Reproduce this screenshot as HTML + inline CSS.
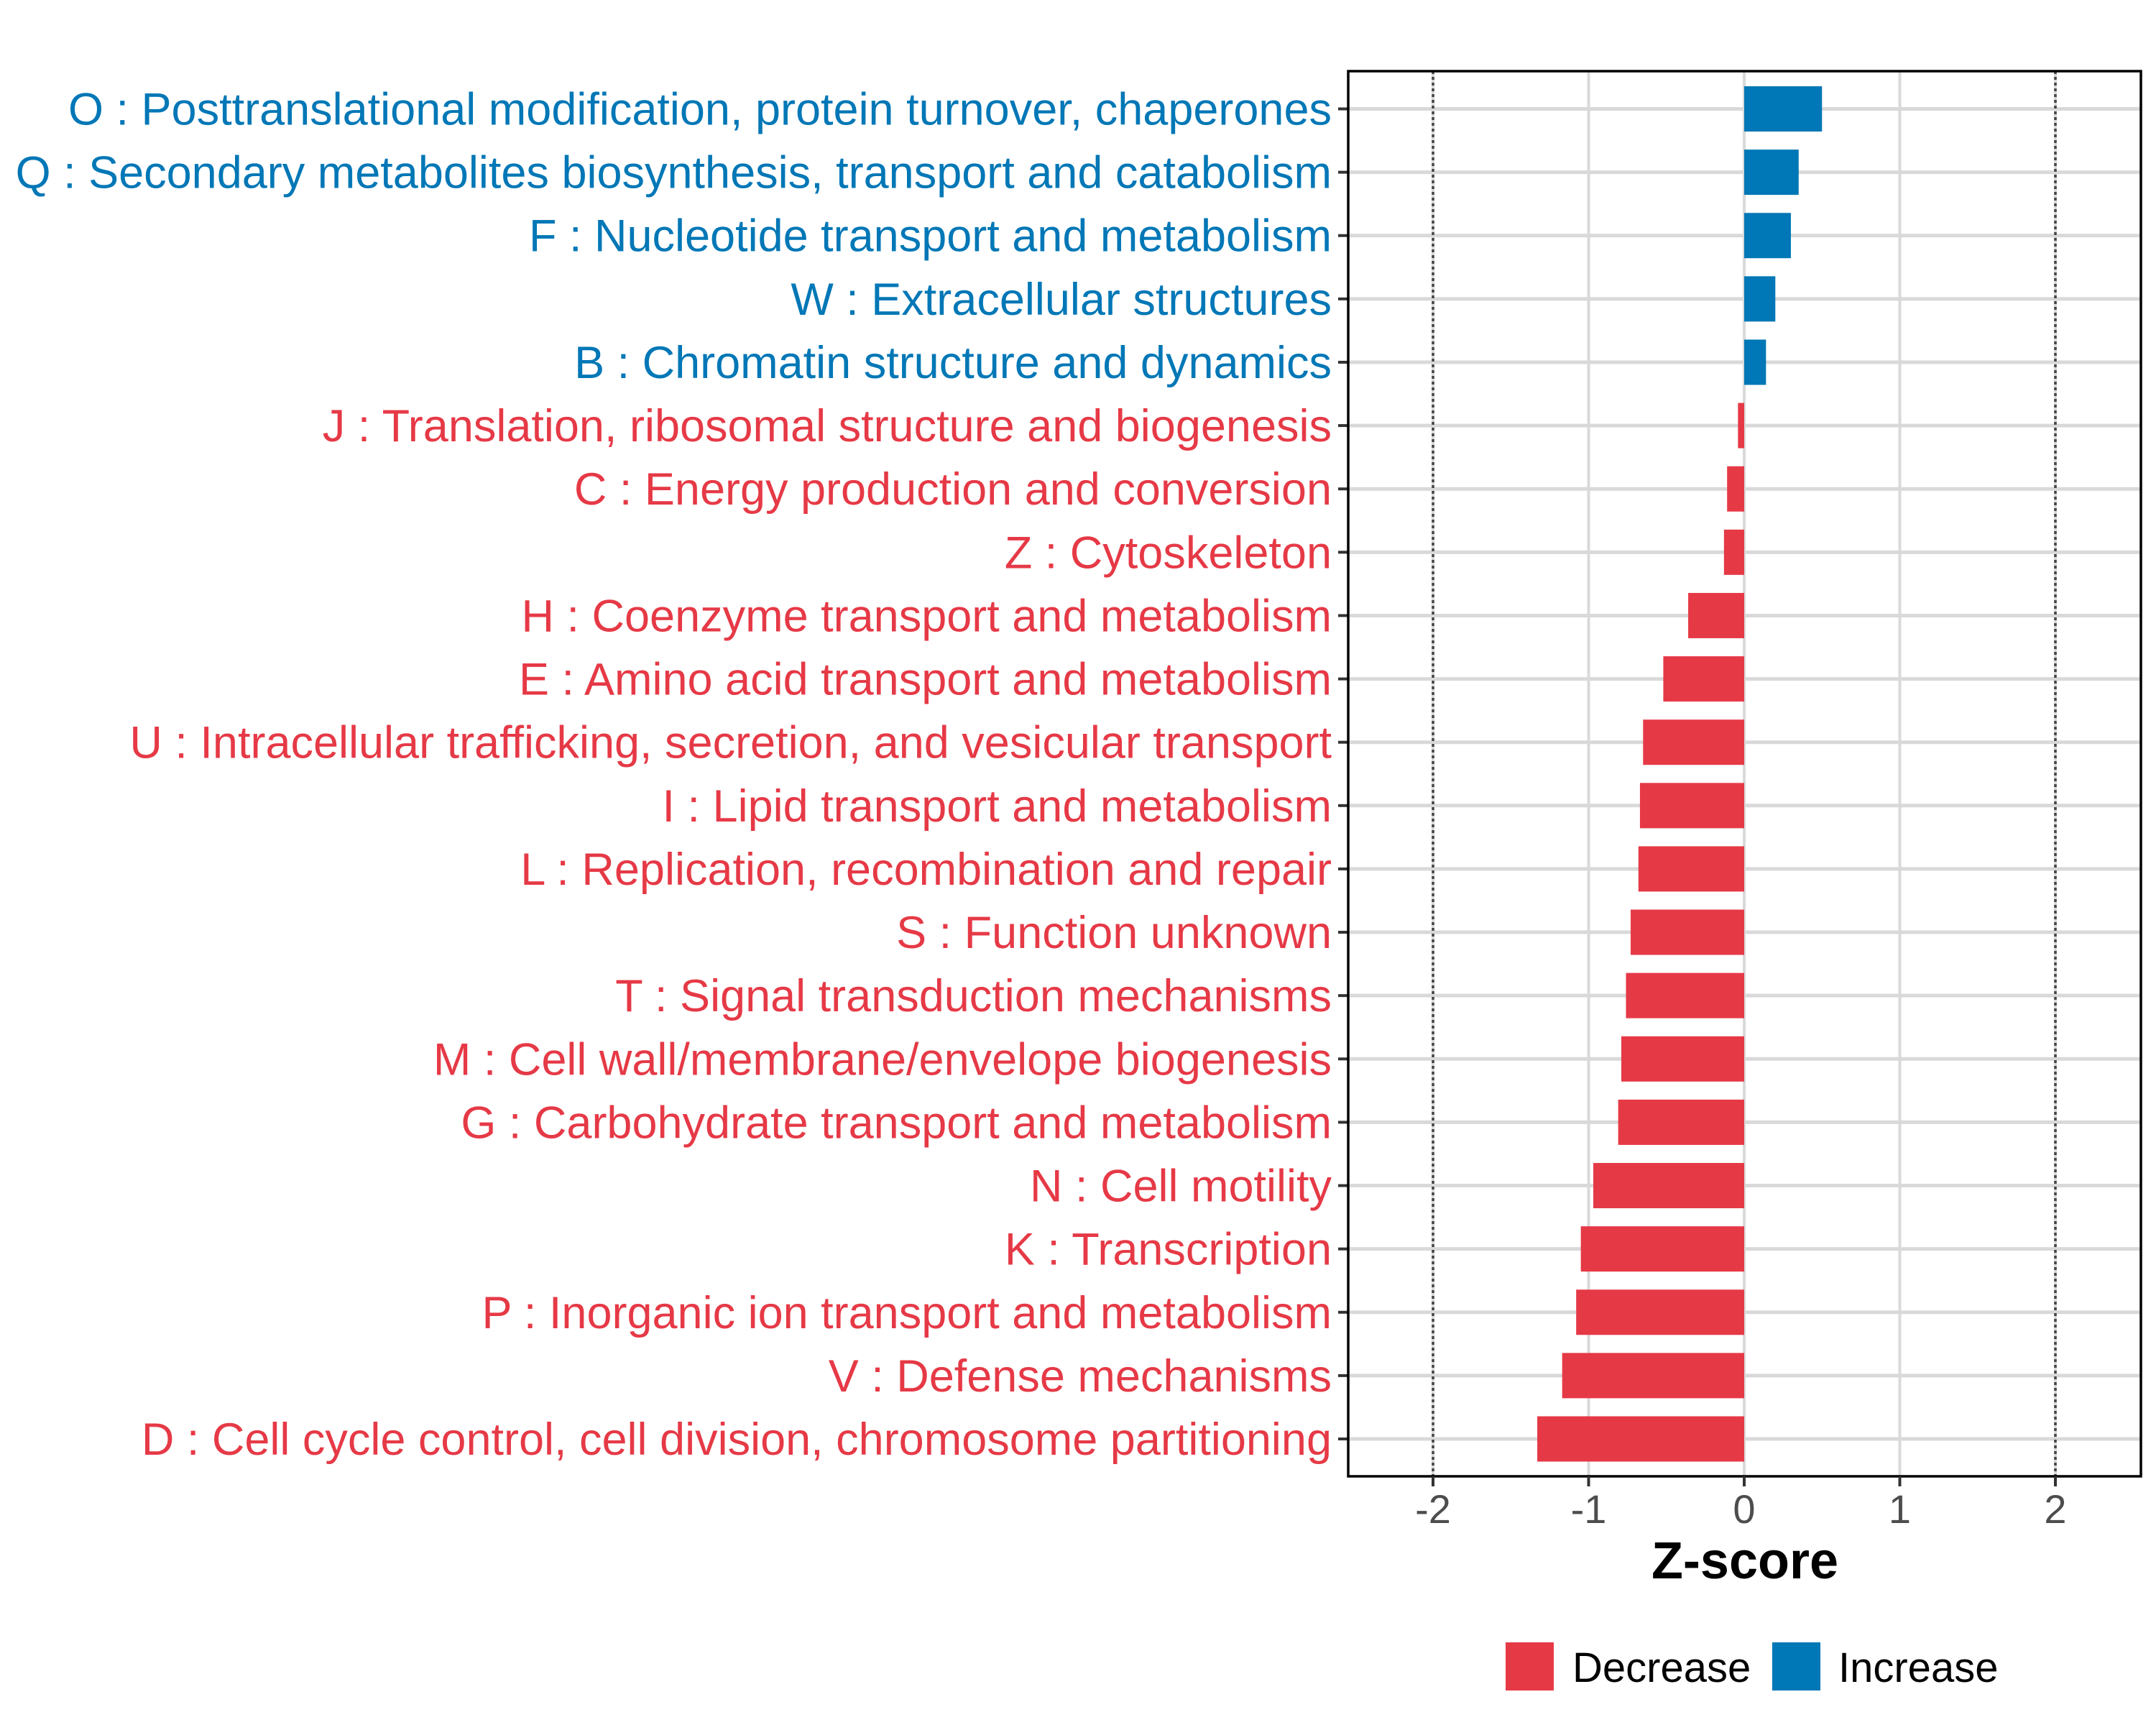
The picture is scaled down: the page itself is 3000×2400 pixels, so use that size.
<!DOCTYPE html>
<html><head><meta charset="utf-8">
<style>html,body{margin:0;padding:0;background:#fff}svg{display:block}</style></head>
<body>
<svg id="chart" width="3000" height="2400" viewBox="0 0 3000 2400" xmlns="http://www.w3.org/2000/svg" font-family="'Liberation Sans', sans-serif">
<rect width="3000" height="2400" fill="#fff"/>
<g id="grid"></g><g id="bars"></g><g id="labels"></g><g id="xaxis"></g>
<text x="2428" y="2196" font-size="72" font-weight="bold" text-anchor="middle" fill="#000">Z-score</text>
<g>
<rect x="2095" y="2285" width="67" height="67" fill="#E63946"/>
<text x="2188" y="2340" font-size="58" fill="#000">Decrease</text>
<rect x="2466" y="2285" width="67" height="67" fill="#0077B6"/>
<text x="2558" y="2340" font-size="58" fill="#000">Increase</text>
</g>
</svg>
<script>
const categories = ["O : Posttranslational modification, protein turnover, chaperones","Q : Secondary metabolites biosynthesis, transport and catabolism","F : Nucleotide transport and metabolism","W : Extracellular structures","B : Chromatin structure and dynamics","J : Translation, ribosomal structure and biogenesis","C : Energy production and conversion","Z : Cytoskeleton","H : Coenzyme transport and metabolism","E : Amino acid transport and metabolism","U : Intracellular trafficking, secretion, and vesicular transport","I : Lipid transport and metabolism","L : Replication, recombination and repair","S : Function unknown","T : Signal transduction mechanisms","M : Cell wall/membrane/envelope biogenesis","G : Carbohydrate transport and metabolism","N : Cell motility","K : Transcription","P : Inorganic ion transport and metabolism","V : Defense mechanisms","D : Cell cycle control, cell division, chromosome partitioning"];
const zscores = [0.50,0.35,0.30,0.20,0.14,-0.04,-0.11,-0.13,-0.36,-0.52,-0.65,-0.67,-0.68,-0.73,-0.76,-0.79,-0.81,-0.97,-1.05,-1.08,-1.17,-1.33];
const xTicks = [-2,-1,0,1,2];
const xTickLabels = ["-2","-1","0","1","2"];
const refLines = [-2,2];

const NS="http://www.w3.org/2000/svg";
const L=1876,R=2979,T=99,B=2054;
const x0=2427, unit=216.5;
const xs=v=>x0+v*unit;
const rowTop=151.5, rowStep=(2002-151.5)/21;
const ys=i=>rowTop+i*rowStep;
function mk(tag,attrs,parent){const e=document.createElementNS(NS,tag);for(const k in attrs)e.setAttribute(k,attrs[k]);parent.appendChild(e);return e;}
const grid=document.getElementById('grid'),bars=document.getElementById('bars'),labels=document.getElementById('labels'),xaxis=document.getElementById('xaxis');
xTicks.forEach(t=>{const l=mk('line',{x1:xs(t),x2:xs(t),y1:T,y2:B,stroke:'#d9d9d9','stroke-width':4},grid);

});
categories.forEach((c,i)=>{const l=mk('line',{x1:L,x2:R,y1:ys(i),y2:ys(i),stroke:'#d9d9d9','stroke-width':5},grid);

});
refLines.forEach(t=>{const l=mk('line',{x1:xs(t),x2:xs(t),y1:T,y2:B,stroke:'#444','stroke-width':3.5,'stroke-dasharray':'4 4'},grid);

});
categories.forEach((c,i)=>{const v=zscores[i];const col=v>=0?'#0077B6':'#E63946';
const r=mk('rect',{x:Math.min(xs(0),xs(v)),y:ys(i)-31.5,width:Math.abs(xs(v)-xs(0)),height:63,fill:col},bars);


const tk=mk('line',{x1:1862,x2:L,y1:ys(i),y2:ys(i),stroke:'#333','stroke-width':4},labels);


const t=mk('text',{x:1853,y:ys(i)+22,'font-size':63,'text-anchor':'end',fill:col},labels);
t.textContent=c;

});
const fr=mk('rect',{x:L,y:T,width:R-L,height:B-T,fill:'none',stroke:'#000','stroke-width':3.5},xaxis);


xTicks.forEach((t,i)=>{const l=mk('line',{x1:xs(t),x2:xs(t),y1:B,y2:B+14,stroke:'#333','stroke-width':4},xaxis);


const tx=mk('text',{x:xs(t),y:2119,'font-size':56,'text-anchor':'middle',fill:'#4d4d4d'},xaxis);
tx.textContent=xTickLabels[i];

});
</script>
</body></html>
